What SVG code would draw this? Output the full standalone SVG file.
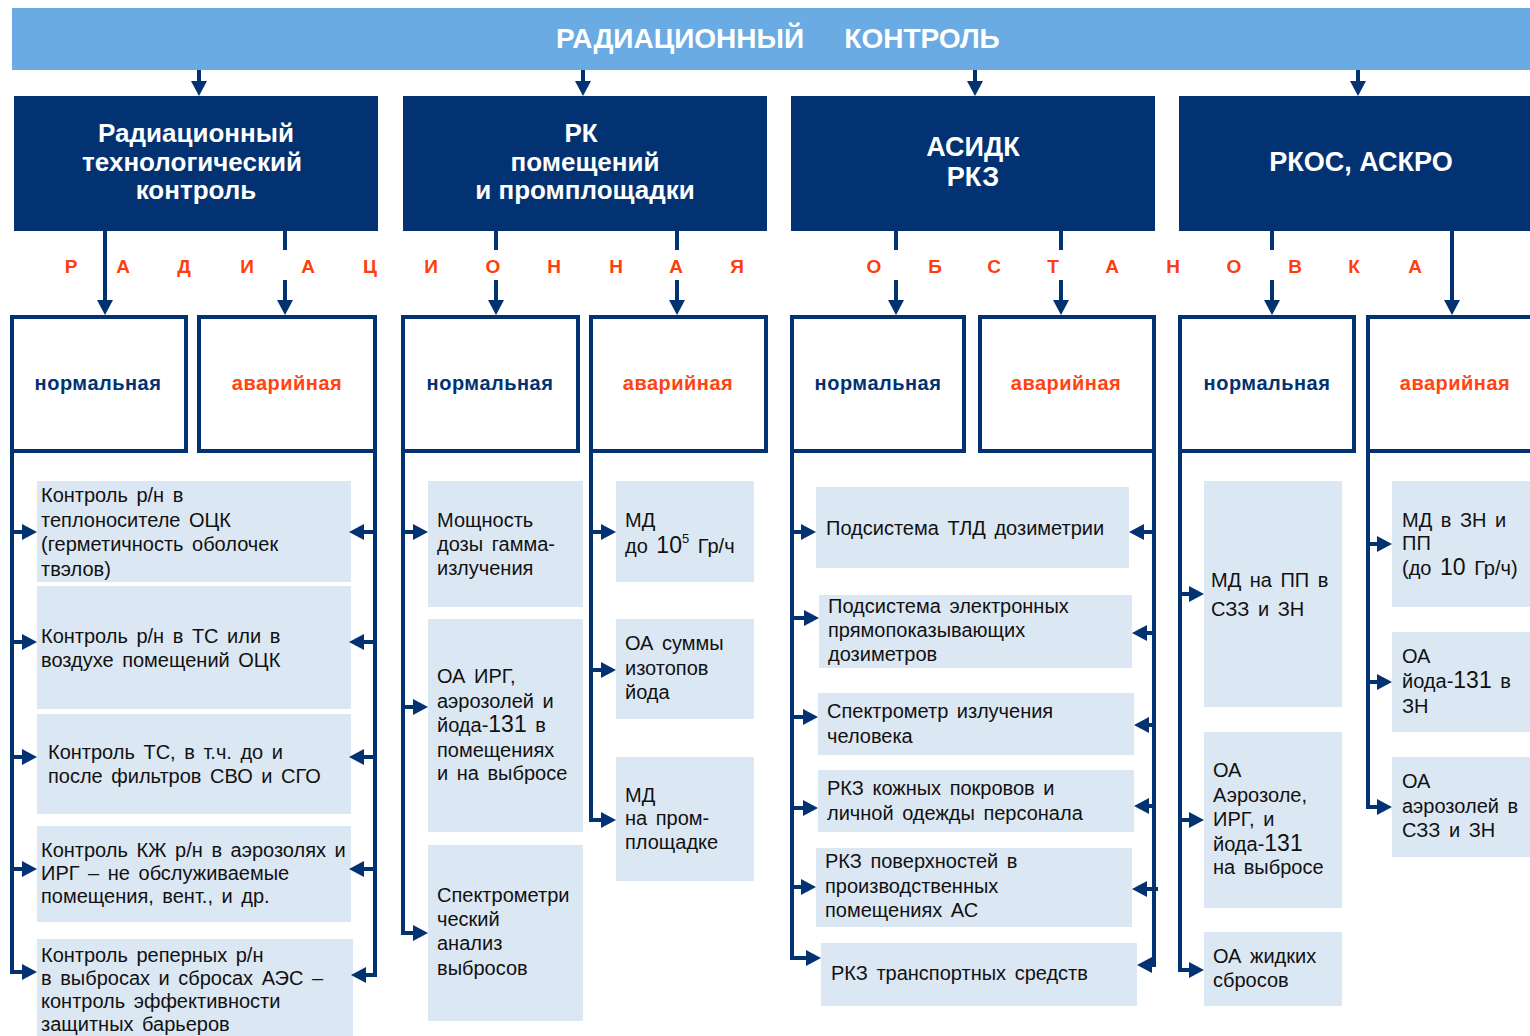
<svg xmlns="http://www.w3.org/2000/svg" width="1530" height="1036" viewBox="0 0 1530 1036">
<style>
.banner{fill:#6BABE3}
.hdr{fill:#023271}
.sub{fill:#ffffff;stroke:#023271;stroke-width:4}
.item{fill:#DCE7F4}
.ht{font-family:"Liberation Sans",Arial,sans-serif;font-weight:bold;fill:#ffffff;text-anchor:middle}
.lt{font-family:"Liberation Sans",Arial,sans-serif;font-weight:bold;font-size:19px;fill:#FF3D0D;text-anchor:middle}
.nt{font-family:"Liberation Sans",Arial,sans-serif;font-weight:bold;font-size:20px;letter-spacing:0.5px;text-anchor:middle}
.norm{fill:#023271}
.avar{fill:#FF4411}
.it{font-family:"Liberation Sans",Arial,sans-serif;font-size:20px;word-spacing:3px;fill:#111111}
.num{font-size:23px}
.c{fill:none;stroke:#023271;stroke-width:4}
.a{fill:none;stroke:#023271;stroke-width:4;marker-end:url(#ah)}
</style>
<defs>
<marker id="ah" markerUnits="userSpaceOnUse" markerWidth="16" markerHeight="16" refX="7" refY="8" orient="auto" viewBox="0 0 16 16">
<path d="M0,0 L15,8 L0,16 z" fill="#023271"/>
</marker>
</defs>
<rect width="1530" height="1036" fill="#ffffff"/>

<g id="banner">
<rect class="banner" x="12" y="8" width="1518" height="62"/>
<text class="ht" font-size="28" y="48"><tspan x="680">РАДИАЦИОННЫЙ</tspan><tspan x="922">КОНТРОЛЬ</tspan></text>
</g>

<g id="hdr1">
<rect class="hdr" x="14" y="96" width="364" height="135"/>
<text class="ht" font-size="26"><tspan x="196" y="142">Радиационный</tspan><tspan x="192" y="171">технологический</tspan><tspan x="196" y="199">контроль</tspan></text>
</g>
<g id="hdr2">
<rect class="hdr" x="403" y="96" width="364" height="135"/>
<text class="ht" font-size="26"><tspan x="581" y="142">РК</tspan><tspan x="585" y="171">помещений</tspan><tspan x="585" y="199">и промплощадки</tspan></text>
</g>
<g id="hdr3">
<rect class="hdr" x="791" y="96" width="364" height="135"/>
<text class="ht" font-size="27"><tspan x="973" y="156">АСИДК</tspan><tspan x="973" y="186">РКЗ</tspan></text>
</g>
<g id="hdr4">
<rect class="hdr" x="1179" y="96" width="351" height="135"/>
<text class="ht" font-size="27" x="1361" y="171">РКОС, АСКРО</text>
</g>

<g id="letters">
<text class="lt" y="273"><tspan x="71">Р</tspan><tspan x="123">А</tspan><tspan x="184">Д</tspan><tspan x="247">И</tspan><tspan x="308">А</tspan><tspan x="370">Ц</tspan><tspan x="431">И</tspan><tspan x="493">О</tspan><tspan x="554">Н</tspan><tspan x="616">Н</tspan><tspan x="676">А</tspan><tspan x="737">Я</tspan></text>
<text class="lt" y="273"><tspan x="874">О</tspan><tspan x="935">Б</tspan><tspan x="994">С</tspan><tspan x="1053">Т</tspan><tspan x="1112">А</tspan><tspan x="1173">Н</tspan><tspan x="1234">О</tspan><tspan x="1295">В</tspan><tspan x="1354">К</tspan><tspan x="1415">А</tspan></text>
</g>

<g id="sub1n"><rect class="sub" x="12" y="317" width="174" height="134"/><text class="nt norm" x="98" y="390">нормальная</text></g>
<g id="sub1a"><rect class="sub" x="199" y="317" width="176" height="134"/><text class="nt avar" x="287" y="390">аварийная</text></g>
<g id="sub2n"><rect class="sub" x="403" y="317" width="175" height="134"/><text class="nt norm" x="490" y="390">нормальная</text></g>
<g id="sub2a"><rect class="sub" x="591" y="317" width="175" height="134"/><text class="nt avar" x="678" y="390">аварийная</text></g>
<g id="sub3n"><rect class="sub" x="792" y="317" width="172" height="134"/><text class="nt norm" x="878" y="390">нормальная</text></g>
<g id="sub3a"><rect class="sub" x="980" y="317" width="174" height="134"/><text class="nt avar" x="1066" y="390">аварийная</text></g>
<g id="sub4n"><rect class="sub" x="1180" y="317" width="174" height="134"/><text class="nt norm" x="1267" y="390">нормальная</text></g>
<g id="sub4a"><rect class="sub" x="1368" y="317" width="170" height="134"/><text class="nt avar" x="1455" y="390">аварийная</text></g>

<g id="c1i1"><rect class="item" x="37" y="481" width="314" height="101"/><text class="it"><tspan x="41" y="502">Контроль р/н в</tspan><tspan x="41" y="526.5">теплоносителе ОЦК</tspan><tspan x="41" y="551">(герметичность оболочек</tspan><tspan x="41" y="575.5">твэлов)</tspan></text></g>
<g id="c1i2"><rect class="item" x="37" y="586" width="314" height="123"/><text class="it"><tspan x="41" y="643">Контроль р/н в ТС или в</tspan><tspan x="41" y="667">воздухе помещений ОЦК</tspan></text></g>
<g id="c1i3"><rect class="item" x="37" y="714" width="314" height="100"/><text class="it"><tspan x="48" y="759">Контроль ТС, в т.ч. до и</tspan><tspan x="48" y="783">после фильтров СВО и СГО</tspan></text></g>
<g id="c1i4"><rect class="item" x="37" y="826" width="314" height="96"/><text class="it"><tspan x="41" y="857">Контроль КЖ р/н в аэрозолях и</tspan><tspan x="41" y="880">ИРГ – не обслуживаемые</tspan><tspan x="41" y="903">помещения, вент., и др.</tspan></text></g>
<g id="c1i5"><rect class="item" x="37" y="939" width="316" height="97"/><text class="it"><tspan x="41" y="962">Контроль реперных р/н</tspan><tspan x="41" y="985">в выбросах и сбросах АЭС –</tspan><tspan x="41" y="1008">контроль эффективности</tspan><tspan x="41" y="1031">защитных барьеров</tspan></text></g>

<g id="c2n1"><rect class="item" x="428" y="481" width="155" height="126"/><text class="it"><tspan x="437" y="527">Мощность</tspan><tspan x="437" y="551">дозы гамма-</tspan><tspan x="437" y="575">излучения</tspan></text></g>
<g id="c2n2"><rect class="item" x="428" y="619" width="155" height="213"/><text class="it"><tspan x="437" y="683">ОА ИРГ,</tspan><tspan x="437" y="708">аэрозолей и</tspan><tspan x="437" y="732">йода-<tspan class="num">131</tspan> в</tspan><tspan x="437" y="757">помещениях</tspan><tspan x="437" y="780">и на выбросе</tspan></text></g>
<g id="c2n3"><rect class="item" x="428" y="845" width="155" height="176"/><text class="it"><tspan x="437" y="902">Спектрометри</tspan><tspan x="437" y="926">ческий</tspan><tspan x="437" y="950">анализ</tspan><tspan x="437" y="975">выбросов</tspan></text></g>
<g id="c2a1"><rect class="item" x="616" y="481" width="138" height="101"/><text class="it"><tspan x="625" y="527">МД</tspan><tspan x="625" y="553">до <tspan class="num">10</tspan><tspan font-size="13" dy="-10">5</tspan><tspan dy="10"> Гр/ч</tspan></tspan></text></g>
<g id="c2a2"><rect class="item" x="616" y="619" width="138" height="100"/><text class="it"><tspan x="625" y="650">ОА суммы</tspan><tspan x="625" y="675">изотопов</tspan><tspan x="625" y="699">йода</tspan></text></g>
<g id="c2a3"><rect class="item" x="616" y="757" width="138" height="124"/><text class="it"><tspan x="625" y="802">МД</tspan><tspan x="625" y="825">на пром-</tspan><tspan x="625" y="849">площадке</tspan></text></g>

<g id="c3i1"><rect class="item" x="816" y="487" width="313" height="81"/><text class="it" x="826" y="535">Подсистема ТЛД дозиметрии</text></g>
<g id="c3i2"><rect class="item" x="819" y="595" width="313" height="73"/><text class="it"><tspan x="828" y="613">Подсистема электронных</tspan><tspan x="828" y="637">прямопоказывающих</tspan><tspan x="828" y="661">дозиметров</tspan></text></g>
<g id="c3i3"><rect class="item" x="818" y="693" width="316" height="62"/><text class="it"><tspan x="827" y="718">Спектрометр излучения</tspan><tspan x="827" y="743">человека</tspan></text></g>
<g id="c3i4"><rect class="item" x="818" y="770" width="316" height="62"/><text class="it"><tspan x="827" y="795">РКЗ кожных покровов и</tspan><tspan x="827" y="820">личной одежды персонала</tspan></text></g>
<g id="c3i5"><rect class="item" x="816" y="848" width="316" height="79"/><text class="it"><tspan x="825" y="868">РКЗ поверхностей в</tspan><tspan x="825" y="893">производственных</tspan><tspan x="825" y="917">помещениях АС</tspan></text></g>
<g id="c3i6"><rect class="item" x="821" y="943" width="316" height="63"/><text class="it" x="831" y="980">РКЗ транспортных средств</text></g>

<g id="c4n1"><rect class="item" x="1204" y="481" width="138" height="226"/><text class="it"><tspan x="1211" y="587">МД на ПП в</tspan><tspan x="1211" y="616">СЗЗ и ЗН</tspan></text></g>
<g id="c4n2"><rect class="item" x="1204" y="732" width="138" height="176"/><text class="it"><tspan x="1213" y="777">ОА</tspan><tspan x="1213" y="802">Аэрозоле,</tspan><tspan x="1213" y="826">ИРГ, и</tspan><tspan x="1213" y="851">йода-<tspan class="num">131</tspan></tspan><tspan x="1213" y="874">на выбросе</tspan></text></g>
<g id="c4n3"><rect class="item" x="1204" y="932" width="138" height="74"/><text class="it"><tspan x="1213" y="963">ОА жидких</tspan><tspan x="1213" y="987">сбросов</tspan></text></g>
<g id="c4a1"><rect class="item" x="1392" y="481" width="140" height="126"/><text class="it"><tspan x="1402" y="527">МД в ЗН и</tspan><tspan x="1402" y="550">ПП</tspan><tspan x="1402" y="575">(до <tspan class="num">10</tspan> Гр/ч)</tspan></text></g>
<g id="c4a2"><rect class="item" x="1392" y="632" width="140" height="100"/><text class="it"><tspan x="1402" y="663">ОА</tspan><tspan x="1402" y="688">йода-<tspan class="num">131</tspan> в</tspan><tspan x="1402" y="713">ЗН</tspan></text></g>
<g id="c4a3"><rect class="item" x="1392" y="757" width="140" height="100"/><text class="it"><tspan x="1402" y="788">ОА</tspan><tspan x="1402" y="813">аэрозолей в</tspan><tspan x="1402" y="837">СЗЗ и ЗН</tspan></text></g>

<g id="connectors">
<path class="a" d="M199,70 V88"/>
<path class="a" d="M583,70 V88"/>
<path class="a" d="M975,70 V88"/>
<path class="a" d="M1358,70 V88"/>
<path class="a" d="M105,231 V307"/>
<path class="c" d="M285,231 V250"/><path class="a" d="M285,280 V307"/>
<path class="c" d="M496,231 V250"/><path class="a" d="M496,280 V307"/>
<path class="c" d="M677,231 V250"/><path class="a" d="M677,280 V307"/>
<path class="c" d="M896,231 V250"/><path class="a" d="M896,280 V307"/>
<path class="c" d="M1061,231 V250"/><path class="a" d="M1061,280 V307"/>
<path class="c" d="M1272,231 V250"/><path class="a" d="M1272,280 V307"/>
<path class="a" d="M1452,231 V307"/>
<path class="c" d="M12,451 V972"/>
<path class="a" d="M12,532 H29"/>
<path class="a" d="M12,642 H29"/>
<path class="a" d="M12,757 H29"/>
<path class="a" d="M12,869 H29"/>
<path class="a" d="M10,972 H29"/>
<path class="c" d="M375,451 V975"/>
<path class="a" d="M375,532 H357"/>
<path class="a" d="M375,642 H357"/>
<path class="a" d="M375,757 H357"/>
<path class="a" d="M375,869 H357"/>
<path class="a" d="M377,975 H359"/>
<path class="c" d="M403,451 V933"/>
<path class="a" d="M403,532 H420"/>
<path class="a" d="M403,707 H420"/>
<path class="a" d="M401,933 H420"/>
<path class="c" d="M591,451 V820"/>
<path class="a" d="M591,532 H608"/>
<path class="a" d="M591,670 H608"/>
<path class="a" d="M589,820 H608"/>
<path class="c" d="M792,451 V958"/>
<path class="a" d="M792,532 H808"/>
<path class="a" d="M792,618 H811"/>
<path class="a" d="M792,717 H810"/>
<path class="a" d="M792,808 H810"/>
<path class="a" d="M792,887 H808"/>
<path class="a" d="M790,958 H813"/>
<path class="c" d="M1154,451 V965"/>
<path class="a" d="M1154,532 H1137"/>
<path class="a" d="M1154,633 H1140"/>
<path class="a" d="M1154,725 H1142"/>
<path class="a" d="M1154,806 H1142"/>
<path class="a" d="M1158,889 H1140"/>
<path class="a" d="M1156,965 H1145"/>
<path class="c" d="M1180,451 V970"/>
<path class="a" d="M1180,594 H1196"/>
<path class="a" d="M1180,820 H1196"/>
<path class="a" d="M1178,970 H1196"/>
<path class="c" d="M1368,451 V807"/>
<path class="a" d="M1368,544 H1384"/>
<path class="a" d="M1368,682 H1384"/>
<path class="a" d="M1366,807 H1384"/>
</g>
</svg>
